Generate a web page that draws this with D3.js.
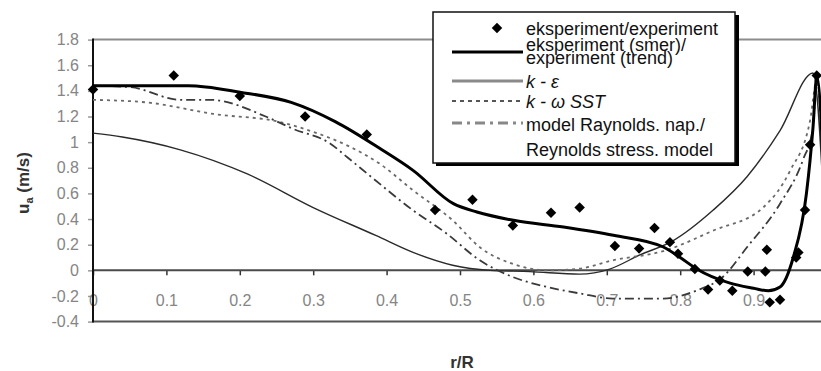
<!DOCTYPE html>
<html>
<head>
<meta charset="utf-8">
<script src="https://cdn.jsdelivr.net/npm/d3@7"></script>
<style>
  html, body { margin: 0; padding: 0; background: #fff; }
  svg { display: block; font-family: "Liberation Sans", Arial, sans-serif; }
</style>
</head>
<body>
<svg id="chart" width="821" height="371"></svg>
<script>
// ---- data ----
const xTicks = [0, 0.1, 0.2, 0.3, 0.4, 0.5, 0.6, 0.7, 0.8, 0.9];
const yTicks = [-0.4, -0.2, 0, 0.2, 0.4, 0.6, 0.8, 1, 1.2, 1.4, 1.6, 1.8];

// experiment points
const expR = [0, 0.11, 0.2, 0.289, 0.373, 0.466, 0.517, 0.572, 0.624, 0.663, 0.711, 0.744, 0.765, 0.786, 0.797, 0.82, 0.838, 0.854, 0.871, 0.892, 0.916, 0.918, 0.922, 0.936, 0.958, 0.961, 0.97, 0.977, 0.986];
const expU = [1.41, 1.52, 1.36, 1.20, 1.06, 0.47, 0.55, 0.35, 0.45, 0.49, 0.19, 0.17, 0.33, 0.22, 0.13, 0.01, -0.15, -0.08, -0.16, -0.01, -0.01, 0.16, -0.25, -0.23, 0.10, 0.14, 0.47, 0.98, 1.52];

// experiment trend
const trendR = [0, 0.13, 0.2, 0.27, 0.33, 0.391, 0.436, 0.491, 0.523, 0.573, 0.641, 0.709, 0.777, 0.80, 0.822, 0.868, 0.90, 0.92, 0.936, 0.954, 0.972, 0.981, 0.986, 1.0];
const trendU = [1.44, 1.44, 1.39, 1.31, 1.16, 0.95, 0.78, 0.52, 0.455, 0.39, 0.338, 0.273, 0.182, 0.10, 0.013, -0.10, -0.14, -0.16, -0.13, 0.10, 0.60, 1.12, 1.51, 0];

// k - epsilon
const keR = [0, 0.04, 0.119, 0.211, 0.30, 0.386, 0.436, 0.49, 0.541, 0.595, 0.663, 0.704, 0.745, 0.79, 0.845, 0.891, 0.936, 0.981, 1.0];
const keU = [1.07, 1.04, 0.94, 0.75, 0.49, 0.27, 0.14, 0.04, 0.0, -0.01, -0.03, 0.01, 0.12, 0.23, 0.47, 0.73, 1.09, 1.54, 0];

// k - omega SST
const kwR = [0, 0.073, 0.164, 0.255, 0.30, 0.346, 0.391, 0.436, 0.49, 0.527, 0.572, 0.619, 0.663, 0.708, 0.777, 0.845, 0.913, 0.95, 0.977, 0.986, 1.0];
const kwU = [1.33, 1.31, 1.22, 1.157, 1.08, 0.975, 0.83, 0.624, 0.39, 0.18, 0.05, 0.0, 0.013, 0.078, 0.15, 0.31, 0.49, 0.78, 1.17, 1.48, 0];

// Reynolds stress model
const rsR = [0, 0.05, 0.119, 0.16, 0.237, 0.272, 0.323, 0.346, 0.381, 0.436, 0.482, 0.527, 0.572, 0.619, 0.663, 0.708, 0.777, 0.823, 0.858, 0.891, 0.936, 0.967, 0.981, 0.986, 1.0];
const rsU = [1.44, 1.43, 1.33, 1.33, 1.196, 1.105, 0.99, 0.884, 0.72, 0.468, 0.286, 0.078, -0.052, -0.13, -0.18, -0.22, -0.22, -0.156, -0.052, 0.18, 0.52, 0.858, 1.118, 1.48, 0];

const legendLabels = [
  ["eksperiment/experiment"],
  ["eksperiment (smer)/", "experiment (trend)"],
  ["k - ε"],
  ["k - ω SST"],
  ["model Raynolds. nap./", "Reynolds stress. model"]
];

// ---- chart ----
const svg = d3.select("#chart");
const x = d3.scaleLinear().domain([0, 1]).range([93, 827]);
const y = d3.scaleLinear().domain([-0.4, 1.8]).range([321.6, 39.6]);
const fmt = d => String(+d.toFixed(1));

// frame lines
svg.append("line").attr("x1", x(0)).attr("x2", 821).attr("y1", y(1.8)).attr("y2", y(1.8))
  .attr("stroke", "#8c8c8c").attr("stroke-width", 2);
svg.append("line").attr("x1", x(0)).attr("x2", 821).attr("y1", y(-0.4)).attr("y2", y(-0.4))
  .attr("stroke", "#555").attr("stroke-width", 2);

// y axis
const yAxis = svg.append("g").attr("transform", `translate(${x(0)},0)`)
  .call(d3.axisLeft(y).tickValues(yTicks).tickFormat(fmt).tickSize(5).tickPadding(9));
yAxis.select(".domain").remove();
yAxis.selectAll(".tick line").attr("stroke", "#999").attr("stroke-width", 1.5);
yAxis.selectAll("text").attr("fill", "#858585").attr("font-size", 16)
  .attr("font-family", "Liberation Sans, Arial, sans-serif");

// x axis on the zero line
const xAxis = svg.append("g").attr("transform", `translate(0,${y(0)})`)
  .call(d3.axisBottom(x).tickValues(xTicks).tickFormat(fmt).tickSize(5).tickPadding(19));
xAxis.select(".domain").remove();
xAxis.selectAll(".tick line").attr("stroke", "#333").attr("stroke-width", 1.5);
xAxis.selectAll("text").attr("fill", "#858585").attr("font-size", 16)
  .attr("font-family", "Liberation Sans, Arial, sans-serif");
svg.append("line").attr("x1", x(0)).attr("x2", 821).attr("y1", y(0)).attr("y2", y(0))
  .attr("stroke", "#4a4a4a").attr("stroke-width", 2);
svg.append("line").attr("x1", x(0)).attr("x2", x(0)).attr("y1", y(1.8) - 1).attr("y2", y(-0.4) + 1)
  .attr("stroke", "#111").attr("stroke-width", 2);

// lines
const line = d3.line().x(d => x(d[0])).y(d => y(d[1])).curve(d3.curveMonotoneX);
const zip = (a, b) => a.map((v, i) => [v, b[i]]);

const gLines = svg.append("g");
gLines.append("path").datum(zip(keR, keU)).attr("d", line)
  .attr("fill", "none").attr("stroke", "#2a2a2a").attr("stroke-width", 1.4);
gLines.append("path").datum(zip(kwR, kwU)).attr("d", line)
  .attr("fill", "none").attr("stroke", "#6a6a6a").attr("stroke-width", 1.8).attr("stroke-dasharray", "3,4");
gLines.append("path").datum(zip(rsR, rsU)).attr("d", line)
  .attr("fill", "none").attr("stroke", "#3a3a3a").attr("stroke-width", 1.8).attr("stroke-dasharray", "9,4,2,4");
gLines.append("path").datum(zip(trendR, trendU)).attr("d", line)
  .attr("fill", "none").attr("stroke", "#000").attr("stroke-width", 3);

// experiment diamonds
const diamond = d3.symbol().type(d3.symbolDiamond2).size(70);
svg.append("g").selectAll("path").data(zip(expR, expU)).join("path")
  .attr("d", diamond)
  .attr("transform", d => `translate(${x(d[0])},${y(d[1])})`)
  .attr("fill", "#000");

// axis titles
const yt = svg.append("text").attr("transform", "translate(29,183) rotate(-90)")
  .attr("text-anchor", "middle").attr("font-size", 17).attr("font-weight", "bold").attr("fill", "#333");
yt.append("tspan").text("u");
yt.append("tspan").attr("font-size", 11).attr("dy", 4).text("a");
yt.append("tspan").attr("dy", -4).text(" (m/s)");
svg.append("text").attr("x", 462).attr("y", 368).attr("text-anchor", "middle")
  .attr("font-size", 17).attr("font-weight", "bold").attr("fill", "#333").text("r/R");

// legend
const lg = svg.append("g");
lg.append("rect").attr("x", 436).attr("y", 15).attr("width", 303).attr("height", 151).attr("fill", "#000");
lg.append("rect").attr("x", 433).attr("y", 12).attr("width", 302).attr("height", 151)
  .attr("fill", "#fff").attr("stroke", "#111").attr("stroke-width", 1.5);

const rowY = [28, 52, 81, 101, 123];
const baselines = [[34.5], [50.5, 63.5], [87.5], [107.5], [130.5, 155.5]];
const lx1 = 452, lx2 = 523, tx = 526;
lg.append("path").attr("d", diamond).attr("transform", `translate(497,${rowY[0]})`).attr("fill", "#000");
lg.append("line").attr("x1", lx1).attr("x2", lx2).attr("y1", rowY[1]).attr("y2", rowY[1])
  .attr("stroke", "#000").attr("stroke-width", 3);
lg.append("line").attr("x1", lx1).attr("x2", lx2).attr("y1", rowY[2]).attr("y2", rowY[2])
  .attr("stroke", "#8a8a8a").attr("stroke-width", 3);
lg.append("line").attr("x1", lx1).attr("x2", lx2).attr("y1", rowY[3]).attr("y2", rowY[3])
  .attr("stroke", "#555").attr("stroke-width", 1.8).attr("stroke-dasharray", "4,4");
lg.append("line").attr("x1", lx1).attr("x2", lx2).attr("y1", rowY[4]).attr("y2", rowY[4])
  .attr("stroke", "#888").attr("stroke-width", 3).attr("stroke-dasharray", "10,5,3,5");

legendLabels.forEach((lines, i) => {
  lines.forEach((t, j) => {
    const el = lg.append("text").attr("x", tx).attr("y", baselines[i][j])
      .attr("font-size", 18).attr("fill", "#111");
    if (i === 2 || i === 3) {
      el.attr("font-style", "italic");
    }
    el.text(t);
  });
});
</script>
</body>
</html>
